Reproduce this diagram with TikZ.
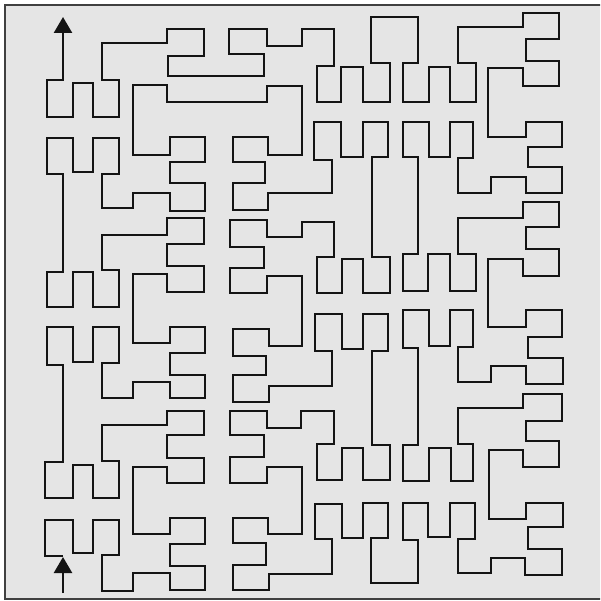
\documentclass[tikz,border=0pt]{standalone}
\usetikzlibrary{arrows.meta}
\begin{document}
\begin{tikzpicture}[x=1pt,y=-1pt,
  curve/.style={line width=2.5pt, draw=black!92, line join=miter},
  tip/.style={-{Triangle[length=16pt,width=18pt]}}]
\useasboundingbox (0,0) rectangle (600,601);
\begin{scope}
\clip (0,0) rectangle (600,601);
\filldraw[fill=black!10, draw=black!75, line width=1.8pt] (5,5) rectangle (604,599);
\end{scope}
% start arrow
\draw[curve,tip] (63,593) -- (63,557);
% main curve
\draw[curve,tip]
(63,556) -- (45,556) -- (45,520) -- (73,520) -- (73,553) -- (93,553) -- (93,520) -- (119,520) -- (119,555) -- (102,555) -- (102,591) -- (133,591) -- (133,573) -- (170,573) -- (170,590) -- (205,590) -- (205,566) -- (170,566) -- (170,544) -- (205,544) -- (205,518) -- (170,518) -- (170,534) -- (133,534) -- (133,467) -- (167,467) -- (167,483) -- (204,483) -- (204,458) -- (167,458) -- (167,435) -- (204,435) -- (204,411) -- (167,411) -- (167,425) -- (102,425) -- (102,461) -- (119,461) -- (119,498) -- (93,498) -- (93,465) -- (73,465) -- (73,498) -- (45,498) -- (45,462) -- (63,462)
-- (63,365) -- (47,365) -- (47,327) -- (73,327) -- (73,362) -- (93,362) -- (93,327) -- (119,327) -- (119,363) -- (102,363) -- (102,398) -- (133,398) -- (133,382) -- (170,382) -- (170,398) -- (205,398) -- (205,375) -- (170,375) -- (170,353) -- (205,353) -- (205,327) -- (170,327) -- (170,343) -- (133,343) -- (133,274) -- (167,274) -- (167,292) -- (204,292) -- (204,266) -- (167,266) -- (167,244) -- (204,244) -- (204,218) -- (167,218) -- (167,235) -- (102,235) -- (102,270) -- (119,270) -- (119,307) -- (93,307) -- (93,272) -- (73,272) -- (73,307) -- (47,307) -- (47,272) -- (63,272)
-- (63,174) -- (47,174) -- (47,138) -- (73,138) -- (73,172) -- (93,172) -- (93,138) -- (119,138) -- (119,174) -- (102,174) -- (102,208) -- (133,208) -- (133,193) -- (170,193) -- (170,211) -- (205,211) -- (205,183) -- (170,183) -- (170,162) -- (205,162) -- (205,137) -- (170,137) -- (170,155) -- (133,155) -- (133,85) -- (167,85) -- (167,102) -- (267,102) -- (267,86) -- (302,86) -- (302,155) -- (268,155) -- (268,137) -- (233,137) -- (233,162) -- (265,162) -- (265,183) -- (233,183) -- (233,210) -- (268,210) -- (268,193) -- (332,193) -- (332,160) -- (314,160) -- (314,122) -- (341,122) -- (341,157) -- (363,157) -- (363,122) -- (388,122) -- (388,157) -- (372,157)
-- (372,257) -- (390,257) -- (390,293) -- (363,293) -- (363,259) -- (342,259) -- (342,293) -- (317,293) -- (317,257) -- (334,257) -- (334,222) -- (302,222) -- (302,237) -- (267,237) -- (267,220) -- (230,220) -- (230,247) -- (264,247) -- (264,268) -- (230,268) -- (230,293) -- (267,293) -- (267,276) -- (302,276) -- (302,346) -- (269,346) -- (269,329) -- (233,329) -- (233,356) -- (266,356) -- (266,375) -- (233,375) -- (233,402) -- (269,402) -- (269,386) -- (332,386) -- (332,351) -- (315,351) -- (315,314) -- (342,314) -- (342,349) -- (363,349) -- (363,314) -- (388,314) -- (388,351) -- (372,351)
-- (372,445) -- (390,445) -- (390,480) -- (363,480) -- (363,448) -- (342,448) -- (342,480) -- (317,480) -- (317,444) -- (334,444) -- (334,411) -- (301,411) -- (301,428) -- (267,428) -- (267,411) -- (230,411) -- (230,435) -- (264,435) -- (264,457) -- (230,457) -- (230,483) -- (267,483) -- (267,467) -- (302,467) -- (302,534) -- (268,534) -- (268,518) -- (233,518) -- (233,543) -- (266,543) -- (266,565) -- (233,565) -- (233,590) -- (269,590) -- (269,574) -- (332,574) -- (332,539) -- (315,539) -- (315,504) -- (342,504) -- (342,538) -- (363,538) -- (363,503) -- (388,503) -- (388,538) -- (371,538) -- (371,583) -- (418,583) -- (418,540) -- (403,540) -- (403,503) -- (428,503) -- (428,537) -- (450,537) -- (450,503) -- (475,503) -- (475,539) -- (458,539) -- (458,573) -- (491,573) -- (491,558) -- (525,558) -- (525,575) -- (562,575) -- (562,549) -- (528,549) -- (528,527) -- (563,527) -- (563,503) -- (526,503) -- (526,519) -- (489,519) -- (489,450) -- (523,450) -- (523,467) -- (559,467) -- (559,441) -- (526,441) -- (526,421) -- (562,421) -- (562,394) -- (523,394) -- (523,408) -- (458,408) -- (458,444) -- (473,444) -- (473,481) -- (451,481) -- (451,448) -- (429,448) -- (429,481) -- (403,481) -- (403,445) -- (418,445)
-- (418,348) -- (403,348) -- (403,310) -- (429,310) -- (429,346) -- (450,346) -- (450,310) -- (473,310) -- (473,347) -- (458,347) -- (458,382) -- (491,382) -- (491,366) -- (526,366) -- (526,384) -- (563,384) -- (563,358) -- (528,358) -- (528,337) -- (562,337) -- (562,310) -- (526,310) -- (526,327) -- (488,327) -- (488,259) -- (523,259) -- (523,276) -- (559,276) -- (559,249) -- (526,249) -- (526,227) -- (559,227) -- (559,202) -- (523,202) -- (523,218) -- (458,218) -- (458,254) -- (476,254) -- (476,291) -- (450,291) -- (450,254) -- (428,254) -- (428,291) -- (403,291) -- (403,254) -- (418,254)
-- (418,157) -- (403,157) -- (403,122) -- (429,122) -- (429,157) -- (450,157) -- (450,122) -- (473,122) -- (473,158) -- (458,158) -- (458,193) -- (491,193) -- (491,177) -- (526,177) -- (526,193) -- (562,193) -- (562,167) -- (528,167) -- (528,147) -- (562,147) -- (562,122) -- (526,122) -- (526,137) -- (488,137) -- (488,68) -- (523,68) -- (523,86) -- (559,86) -- (559,61) -- (526,61) -- (526,39) -- (559,39) -- (559,13) -- (523,13) -- (523,27) -- (458,27) -- (458,63) -- (476,63) -- (476,102) -- (450,102) -- (450,67) -- (429,67) -- (429,102) -- (403,102) -- (403,63) -- (418,63) -- (418,17) -- (371,17) -- (371,63) -- (390,63) -- (390,102) -- (363,102) -- (363,67) -- (341,67) -- (341,102) -- (317,102) -- (317,66) -- (334,66) -- (334,29) -- (302,29) -- (302,46) -- (267,46) -- (267,29) -- (229,29) -- (229,54) -- (264,54) -- (264,76) -- (168,76) -- (168,56) -- (204,56) -- (204,29) -- (167,29) -- (167,43) -- (102,43) -- (102,80) -- (119,80) -- (119,117) -- (93,117) -- (93,83) -- (73,83) -- (73,117) -- (47,117) -- (47,80) -- (63,80) -- (63,17);
\end{tikzpicture}
\end{document}
